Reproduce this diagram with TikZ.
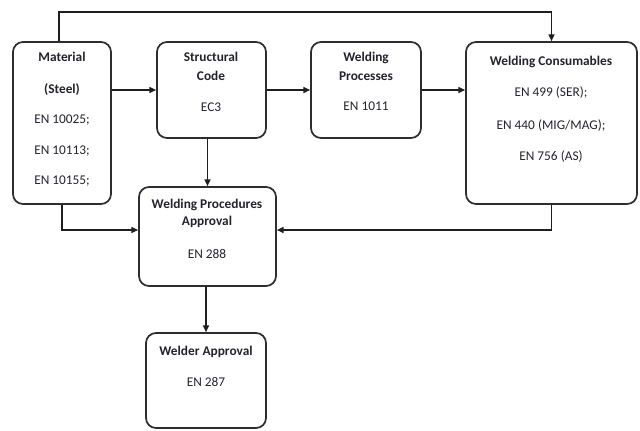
\documentclass[tikz,border=0pt]{standalone}
\usepackage{fontspec}
\setmainfont{Carlito}
\usetikzlibrary{arrows.meta}

\tikzset{every picture/.style={line width=0.75pt}}
\tikzset{
  stdbox/.style={draw={rgb, 255:red, 45; green, 45; blue, 45 }, line width=1.3pt, rounded corners=7.5pt, inner sep=0pt},
  conn/.style={draw={rgb, 255:red, 30; green, 30; blue, 30 }, line width=1pt, -{Triangle[length=5pt,width=4.5pt]}},
  ttl/.style={anchor=mid, font=\fontsize{10}{12}\selectfont\bfseries, text={rgb, 255:red, 35; green, 35; blue, 45 }},
  txt/.style={anchor=mid, font=\fontsize{10}{12}\selectfont, text={rgb, 255:red, 35; green, 35; blue, 45 }}
}

\begin{document}
\begin{tikzpicture}[x=0.75pt,y=0.75pt,yscale=-1,xscale=1]
\useasboundingbox (0,0) rectangle (640,430);

%Boxes
\node [stdbox, minimum width=73.5pt, minimum height=121.5pt] (mat) at (62,123) {};
\node [stdbox, minimum width=81.75pt, minimum height=72pt] (sc) at (211.5,90) {};
\node [stdbox, minimum width=82.5pt, minimum height=72pt] (wp) at (366,90) {};
\node [stdbox, minimum width=128.25pt, minimum height=121.5pt] (wc) at (551.5,123) {};
\node [stdbox, minimum width=102.75pt, minimum height=74.25pt] (wpa) at (207.5,236.5) {};
\node [stdbox, minimum width=90pt, minimum height=71.25pt] (wa) at (206,380.5) {};

%Helper points
\coordinate (topleft) at (59,12);
\coordinate (lvl) at (0,230);

%Connectors
\draw [conn] (mat.north -| topleft) -- (topleft) -| (wc.north);
\draw [conn] (mat.east |- sc.west) -- (sc.west);
\draw [conn] (sc.east) -- (wp.west);
\draw [conn] (wp.east) -- (wp.east -| wc.west);
\draw [conn] (sc.south -| wpa.north) -- (wpa.north);
\draw [conn] (mat.south) |- (wpa.west |- lvl);
\draw [conn] (wc.south) |- (wpa.east |- lvl);
\draw [conn] (wpa.south -| wa.north) -- (wa.north);

% Text Node
\node [ttl] (mat1) at (62,58) {Material};
\node [ttl] (mat2) at (62,90) {(Steel)};
\node [txt] (mat3) at (62,120) {EN 10025;};
\node [txt] (mat4) at (62,151) {EN 10113;};
\node [txt] (mat5) at (62,181) {EN 10155;};
% Text Node
\node [ttl] (sc1) at (211,58) {Structural};
\node [ttl] (sc2) at (211,77) {Code};
\node [txt] (sc3) at (211,108) {EC3};
% Text Node
\node [ttl] (wp1) at (366,58) {Welding};
\node [ttl] (wp2) at (366,77) {Processes};
\node [txt] (wp3) at (366,107) {EN 1011};
% Text Node
\node [ttl] (wc1) at (551,62) {Welding Consumables};
\node [txt] (wc2) at (551,93) {EN 499 (SER);};
\node [txt] (wc3) at (551,126) {EN 440 (MIG/MAG);};
\node [txt] (wc4) at (551,157) {EN 756 (AS)};
% Text Node
\node [ttl] (wpa1) at (207,205) {Welding Procedures};
\node [ttl] (wpa2) at (207,222) {Approval};
\node [txt] (wpa3) at (207,255) {EN 288};
% Text Node
\node [ttl] (wa1) at (206,352) {Welder Approval};
\node [txt] (wa2) at (206,383) {EN 287};

\end{tikzpicture}
\end{document}
